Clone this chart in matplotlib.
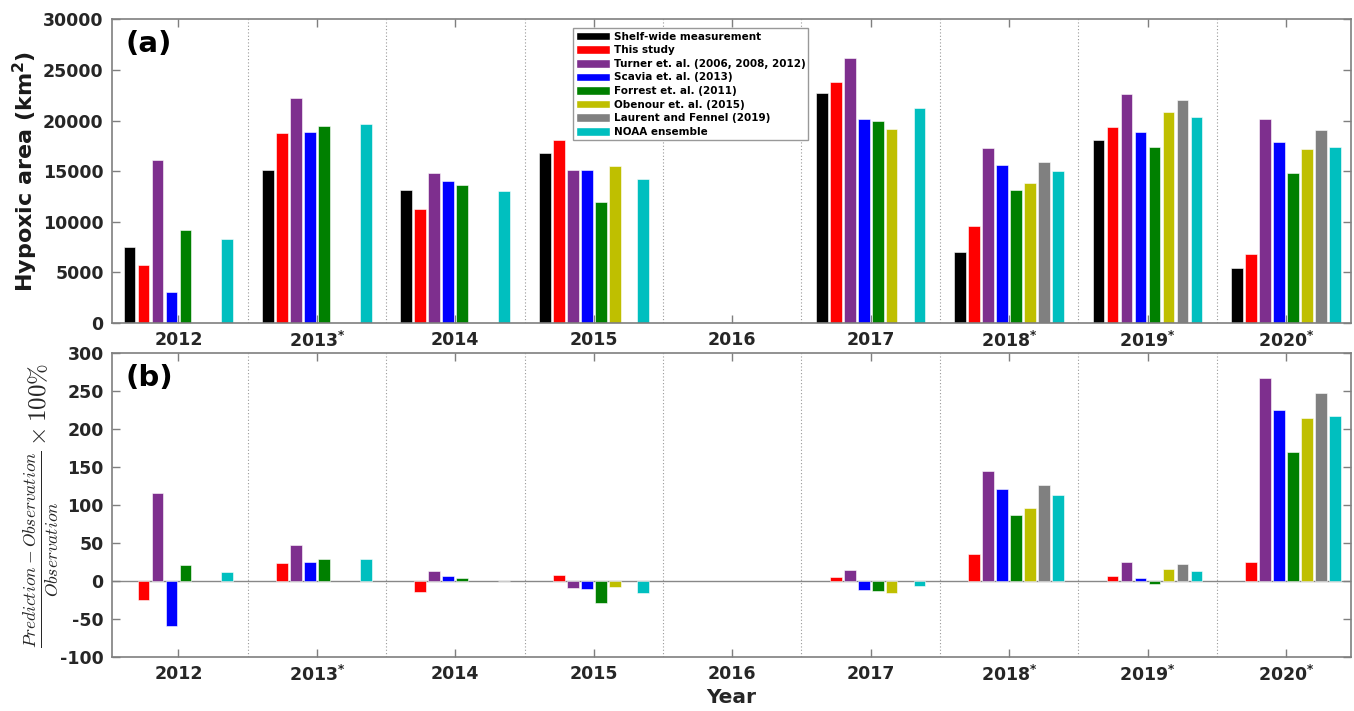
import numpy as np
import matplotlib
matplotlib.use("Agg")
import matplotlib.pyplot as plt
from matplotlib.patches import Patch

years = ["2012", "2013$^{\\mathbf{*}}$", "2014", "2015", "2016", "2017",
         "2018$^{\\mathbf{*}}$", "2019$^{\\mathbf{*}}$", "2020$^{\\mathbf{*}}$"]
series_names = ["Shelf-wide measurement", "This study", "Turner et. al. (2006, 2008, 2012)",
                "Scavia et. al. (2013)", "Forrest et. al. (2011)", "Obenour et. al. (2015)",
                "Laurent and Fennel (2019)", "NOAA ensemble"]
colors = ["#000000", "#FF0000", "#7E2F8E", "#0000FF", "#008000", "#BFBF00", "#808080", "#00BFBF"]

nan = np.nan
# Panel (a): hypoxic area (km^2), rows = series, columns = years 2012..2020
shelf   = [7470, 15130, 13100, 16790, nan, 22750, 7060, 18040, 5480]
this    = [5690, 18790, 11250, 18040, nan, 23780, 9540, 19360, 6830]
turner  = [16090, 22230, 14810, 15130, nan, 26180, 17280, 22590, 20150]
scavia  = [3090, 18890, 13990, 15070, nan, 20120, 15570, 18830, 17840]
forrest = [9150, 19490, 13590, 11910, nan, 19920, 13160, 17410, 14780]
obenour = [nan, nan, nan, 15530, nan, 19130, 13820, 20810, 17210]
laurent = [nan, nan, nan, nan, nan, nan, 15930, 22030, 19030]
noaa    = [8320, 19620, 13060, 14210, nan, 21240, 14980, 20320, 17380]
area = [shelf, this, turner, scavia, forrest, obenour, laurent, noaa]

# Panel (b): relative error (%) of each prediction
err_this    = [-24.6, 24.1, -14.9, 7.9, nan, 4.8, 35.1, 7.0, 25.0]
err_turner  = [115.4, 46.9, 13.6, -9.6, nan, 14.9, 145.2, 25.4, 267.5]
err_scavia  = [-59.6, 25.0, 6.6, -10.1, nan, -11.4, 121.0, 4.4, 225.0]
err_forrest = [21.5, 28.9, 3.9, -29.4, nan, -12.7, 86.8, -3.9, 169.7]
err_obenour = [nan, nan, nan, -7.5, nan, -15.8, 96.0, 15.4, 214.0]
err_laurent = [nan, nan, nan, nan, nan, nan, 125.9, 22.4, 247.4]
err_noaa    = [11.4, 29.4, 0.4, -15.4, nan, -7.0, 113.2, 13.2, 216.7]
errors = [None, err_this, err_turner, err_scavia, err_forrest, err_obenour, err_laurent, err_noaa]

plt.rcParams['font.family'] = ['DejaVu Sans']
plt.rcParams['font.weight'] = 'bold'
plt.rcParams['mathtext.fontset'] = 'dejavusans'
plt.rcParams['mathtext.default'] = 'bf'
plt.rcParams['axes.unicode_minus'] = False

fig = plt.figure(figsize=(13.54, 7.11), dpi=100)
ax1 = fig.add_axes([0.0827, 0.5457, 0.9151, 0.4272])
ax2 = fig.add_axes([0.0827, 0.0759, 0.9151, 0.4276])

x = np.arange(1, len(years) + 1)
nser = len(series_names)
step = 0.101
bw = 0.085
offsets = (np.arange(nser) - (nser - 1) / 2) * step
axcol = '#7f7f7f'
tfs = 12.5

def style(ax):
    ax.set_xlim(0.52, 9.47)
    ax.set_xticks(x)
    ax.set_xticklabels(years, fontsize=tfs, fontweight='bold', color='#262626')
    for xv in x[:-1] + 0.5:
        ax.axvline(xv, color='#999999', linestyle=(0, (1, 2)), linewidth=0.8, zorder=0)
    ax.tick_params(direction='in', length=6, width=1, colors=axcol, top=True, right=True,
                   labelcolor='#262626', labelsize=tfs, pad=6)
    for sp in ax.spines.values():
        sp.set_color(axcol)
        sp.set_linewidth(1.2)
    for lab in ax.get_yticklabels():
        lab.set_fontweight('bold')

for i in range(nser):
    ax1.bar(x + offsets[i], area[i], width=bw, color=colors[i], edgecolor='white',
            linewidth=0.4, zorder=2)
ax1.set_ylim(0, 30000)
ax1.set_yticks(np.arange(0, 30001, 5000))
style(ax1)
ax1.set_ylabel("Hypoxic area (km$^\\mathbf{2}$)", fontsize=16, fontweight='bold', color='#1a1a1a')
ax1.yaxis.set_label_coords(-0.058, 0.5)
ax1.text(0.011, 0.965, "(a)", transform=ax1.transAxes, fontsize=21, fontweight='bold', va='top')

handles = [Patch(facecolor=c, edgecolor='white') for c in colors]
leg = ax1.legend(handles, series_names, loc='upper left', bbox_to_anchor=(0.372, 0.970),
                 prop={'weight': 'bold', 'size': 7.5}, frameon=True, fancybox=False,
                 handlelength=3.3, handleheight=0.9, handletextpad=0.3, labelspacing=0.35,
                 borderpad=0.3, borderaxespad=0, framealpha=1)
leg.get_frame().set_edgecolor('#999999')
leg.get_frame().set_linewidth(1.0)
leg.set_zorder(5)

for i in range(1, nser):
    ax2.bar(x + offsets[i], errors[i], width=bw, color=colors[i], edgecolor='white',
            linewidth=0.4, zorder=2)
ax2.axhline(0, color='#888888', linewidth=1.0, zorder=1)
ax2.set_ylim(-100, 300)
ax2.set_yticks(np.arange(-100, 301, 50))
style(ax2)
ylab = ax2.set_ylabel(r"$\frac{\mathit{Prediction}-\mathit{Observation}}{\mathit{Observation}} \times 100\%$",
                      fontsize=18, fontweight='normal', color='#262626')
ylab.set_math_fontfamily('cm')
ax2.yaxis.set_label_coords(-0.042, 0.5)
ax2.set_xlabel("Year", fontsize=14.5, fontweight='bold', labelpad=2, color='#262626')
ax2.text(0.011, 0.965, "(b)", transform=ax2.transAxes, fontsize=21, fontweight='bold', va='top')

fig.savefig("out.png", dpi=100)
